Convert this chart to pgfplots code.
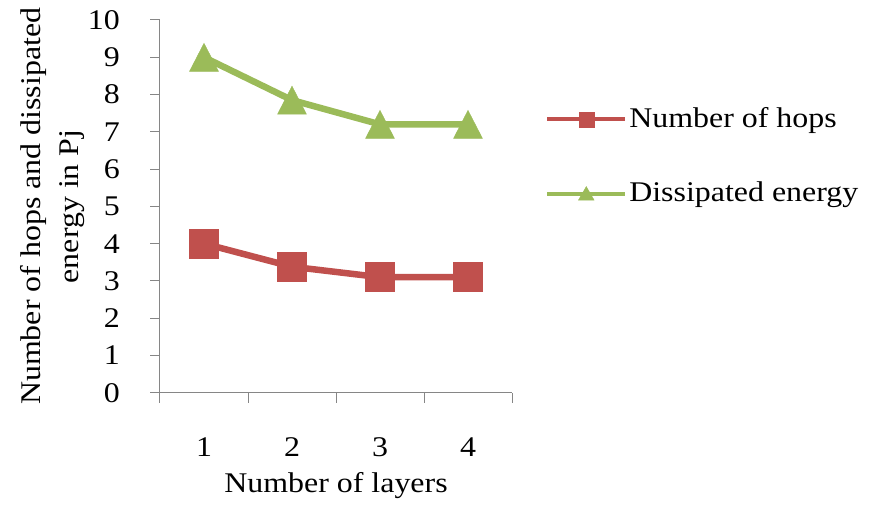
\documentclass[border=0pt]{standalone}
\usepackage{fontspec}
\setmainfont{Liberation Serif}[FakeStretch=1.12]
\usepackage{pgfplots}
\pgfplotsset{compat=1.18}
\definecolor{hopsred}{HTML}{C0504D}
\definecolor{energygreen}{HTML}{9BBB59}
\definecolor{axisgray}{HTML}{868686}
\begin{document}
\fontsize{28.5}{38}\selectfont
\begin{tikzpicture}
\path[use as bounding box] (0pt,0pt) rectangle (875pt,504pt);
\begin{axis}[
  at={(160pt,111.3pt)}, anchor=south west,
  scale only axis, width=352pt, height=372.7pt,
  xmin=0.5, xmax=4.5, ymin=0, ymax=10,
  clip=false,
  axis lines*=left,
  axis line style={axisgray, line width=1pt},
  tick style={axisgray, line width=1pt},
  tick align=outside, major tick length=10pt,
  /pgf/number format/assume math mode=true,
  xtick={0.5,1.5,2.5,3.5,4.5}, xticklabels={},
  extra x ticks={1,2,3,4}, extra x tick labels={1,2,3,4},
  extra x tick style={major tick length=0pt,
    xticklabel style={anchor=base, inner sep=0pt, yshift=-64pt}},
  ytick={0,1,...,10},
  yticklabel style={anchor=east, inner sep=0pt, xshift=-30pt},
  xlabel={Number of layers},
  xlabel style={at={(axis description cs:0.5,-0.269)}, anchor=base, inner sep=0pt},
  ylabel={Number of hops and dissipated\\energy in Pj},
  ylabel style={align=center, inner sep=0pt,
    at={(axis description cs:-0.213,0.5)}, anchor=south},
  legend style={at={(axis description cs:1.094,0.634)}, anchor=west,
    draw=none, fill=none, inner sep=0pt, row sep=46pt,
    nodes={inner sep=2pt, anchor=west}},
  legend cell align=left,
  legend image code/.code={
    \draw[mark repeat=2, mark phase=2, #1]
      plot coordinates {(0pt,0pt) (39pt,0pt) (78pt,0pt)};
  },
]
% number of hops per layer count
\addplot[hopsred, line width=6.5pt, mark=square*, mark size=14.5pt,
  mark options={line width=0.4pt}, forget plot]
  coordinates {(1,4) (2,3.38) (3,3.1) (4,3.1)};
% energy dissipated (pJ)
\addplot[energygreen, line width=6.5pt, mark=triangle*, mark size=16.7pt,
  mark options={line width=0.4pt, yshift=-4.7pt, yscale=1.12}, forget plot]
  coordinates {(1,9) (2,7.85) (3,7.2) (4,7.2)};

\addlegendimage{hopsred, line width=4pt, mark=square*, mark size=7.5pt,
  mark options={line width=0.4pt}}
\addlegendentry{Number of hops}
\addlegendimage{energygreen, line width=4pt, mark=triangle*, mark size=9pt,
  mark options={line width=0.4pt, yshift=-2pt}}
\addlegendentry{Dissipated energy}
\end{axis}
\end{tikzpicture}
\end{document}
